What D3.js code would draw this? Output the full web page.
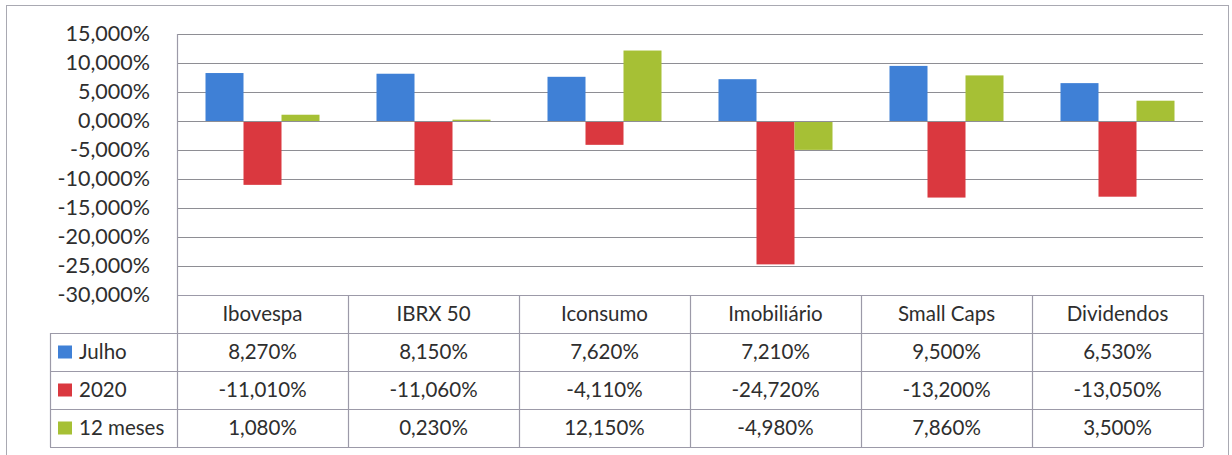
<!DOCTYPE html>
<html><head><meta charset="utf-8">
<script src="https://cdn.jsdelivr.net/npm/d3@7"></script>
<style>
html,body{margin:0;padding:0;background:#fff;}
svg{display:block;}
text{font-family:Lato,"Open Sans",sans-serif;fill:#2e2e2e;}
</style></head>
<body>
<svg id="c" width="1232" height="455"></svg>
<script>
const categories = ["Ibovespa","IBRX 50","Iconsumo","Imobiliário","Small Caps","Dividendos"];
const seriesNames = ["Julho","2020","12 meses"];
const julho = [8.27, 8.15, 7.62, 7.21, 9.5, 6.53];
const ano2020 = [-11.01, -11.06, -4.11, -24.72, -13.2, -13.05];
const meses12 = [1.08, 0.23, 12.15, -4.98, 7.86, 3.5];
const yTicks = [15, 10, 5, 0, -5, -10, -15, -20, -25, -30];
const colors = ["#3f80d6", "#da383f", "#a6c035"];

const seriesValues = [julho, ano2020, meses12];
const loc = d3.formatLocale({decimal: ",", thousands: ".", grouping: [3], currency: ["R$", ""], minus: "-"});
const fmt = v => loc.format(".3f")(v) + "%";

const svg = d3.select("#c");
// outer border
svg.append("rect").attr("x", 6.5).attr("y", 5.5).attr("width", 1222).attr("height", 460)
  .attr("fill", "none").attr("stroke", "#a9a9b2").attr("stroke-width", 1);

const L = 177, R = 1203, T = 34, B = 295;
const y = d3.scaleLinear().domain([-30, 15]).range([B, T]);
const x0 = d3.scaleBand().domain(categories).range([L, R]).paddingInner(0).paddingOuter(0);
const bw = x0.bandwidth();
const x1 = d3.scaleBand().domain(seriesNames).range([bw/6, bw*5/6]).padding(0);

// gridlines
svg.append("g").selectAll("line").data(yTicks.filter(t => t !== -30)).join("line")
  .attr("x1", L).attr("x2", R).attr("y1", d => Math.round(y(d)) + 0.5).attr("y2", d => Math.round(y(d)) + 0.5)
  .attr("stroke", "#8e8e94").attr("stroke-width", 1.2);

// y axis labels
const yAxis = d3.axisLeft(y).tickValues(yTicks).tickFormat(fmt).tickSize(0).tickPadding(0);
const ga = svg.append("g").attr("transform", `translate(150,0)`).call(yAxis);
ga.select(".domain").remove();
ga.selectAll("text").style("font-size", "21.5px").attr("fill", "#2a2a2a").style("font-family", "Lato, sans-serif");

// bars
seriesValues.forEach((vals, si) => {
  svg.append("g").selectAll("rect").data(vals).join("rect")
    .attr("x", (d, i) => x0(categories[i]) + x1(seriesNames[si]))
    .attr("width", x1.bandwidth())
    .attr("y", d => y(Math.max(0, d)))
    .attr("height", d => Math.abs(y(d) - y(0)))
    .attr("fill", colors[si]);
});

// zero line drawn over bars
svg.append("line").attr("x1", L).attr("x2", R).attr("y1", Math.round(y(0)) + 0.5).attr("y2", Math.round(y(0)) + 0.5)
  .attr("stroke", "#8e8e94").attr("stroke-width", 1.2);

// table
const rowH = 38;
const tableTop = B;
const legL = 50;
const lineColor = "#9c9aa8";
const fs = "20.5px";
const tg = svg.append("g");
[0, 1, 2, 3, 4].forEach(r => {
  const yy = Math.round(tableTop + r * rowH) + 0.5;
  tg.append("line").attr("x1", r === 0 ? L : legL).attr("x2", R).attr("y1", yy).attr("y2", yy)
    .attr("stroke", lineColor).attr("stroke-width", 1.2);
});
tg.append("line").attr("x1", L + 0.5).attr("x2", L + 0.5).attr("y1", T).attr("y2", tableTop + 4 * rowH)
  .attr("stroke", lineColor).attr("stroke-width", 1.2);
categories.forEach((c, i) => {
  const xx = Math.round(x0(c) + bw) + 0.5;
  tg.append("line").attr("x1", xx).attr("x2", xx).attr("y1", tableTop).attr("y2", tableTop + 4 * rowH)
    .attr("stroke", lineColor).attr("stroke-width", 1.2);
});
tg.append("line").attr("x1", legL + 0.5).attr("x2", legL + 0.5).attr("y1", tableTop + rowH).attr("y2", tableTop + 4 * rowH)
  .attr("stroke", lineColor).attr("stroke-width", 1.2);

tg.selectAll("text.hdr").data(categories).join("text").attr("class", "hdr")
  .attr("x", d => x0(d) + bw / 2).attr("y", tableTop + rowH / 2).attr("dy", "0.35em")
  .attr("text-anchor", "middle").style("font-size", fs).text(d => d);

seriesNames.forEach((s, si) => {
  const ry = tableTop + (si + 1) * rowH;
  tg.append("rect").attr("x", 58).attr("y", ry + rowH / 2 - 6.5).attr("width", 14).attr("height", 13).attr("fill", colors[si]);
  tg.append("text").attr("x", 79).attr("y", ry + rowH / 2).attr("dy", "0.35em").style("font-size", fs).text(s);
  tg.append("g").selectAll("text").data(seriesValues[si]).join("text")
    .attr("x", (d, i) => x0(categories[i]) + bw / 2).attr("y", ry + rowH / 2).attr("dy", "0.35em")
    .attr("text-anchor", "middle").style("font-size", fs).text(d => fmt(d));
});
</script>
</body></html>
